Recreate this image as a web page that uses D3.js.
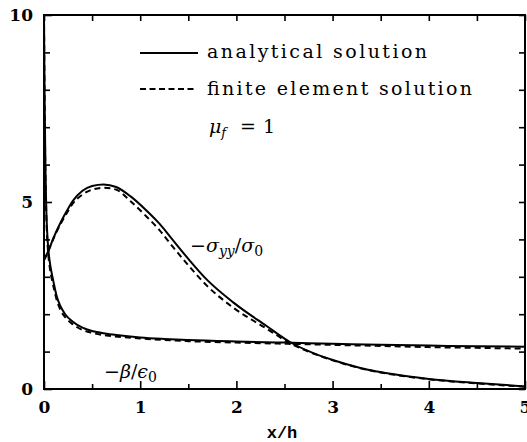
<!DOCTYPE html>
<html>
<head>
<meta charset="utf-8">
<script src="https://cdnjs.cloudflare.com/ajax/libs/d3/7.8.5/d3.min.js"></script>
<style>
  html, body { margin: 0; padding: 0; background: #fff; }
  svg { display: block; }
  .tick text { font-family: "DejaVu Serif", serif; font-weight: bold; font-size: 17px; fill: #000; }
  .tick line { stroke: #000; stroke-width: 1.6; }
</style>
</head>
<body>
<svg id="chart" width="527" height="442"></svg>
<script>
// Normalised position along the strip
const xs = [0, 0.05, 0.1, 0.17, 0.25, 0.3, 0.4, 0.5, 0.62, 0.75, 0.9, 1.07, 1.2, 1.34, 1.5, 1.69, 1.97, 2.31, 2.56, 2.8, 3.01, 3.28, 3.67, 4.0, 4.5, 5];
// -sigma_yy / sigma_0
const sigmaAnalytical = [3.45, 3.72, 4.05, 4.44, 4.82, 5.03, 5.3, 5.43, 5.47, 5.4, 5.15, 4.76, 4.42, 3.98, 3.48, 2.93, 2.31, 1.69, 1.25, 0.96, 0.77, 0.57, 0.38, 0.27, 0.16, 0.07];
const sigmaFE = [3.45, 3.72, 4.03, 4.4, 4.76, 4.96, 5.2, 5.33, 5.38, 5.33, 5.02, 4.6, 4.25, 3.8, 3.31, 2.77, 2.17, 1.62, 1.22, 0.95, 0.76, 0.56, 0.37, 0.26, 0.15, 0.06];

// -beta / epsilon_0
const xb = [0, 0.004, 0.008, 0.015, 0.025, 0.04, 0.06, 0.08, 0.1, 0.13, 0.17, 0.22, 0.3, 0.4, 0.5, 0.65, 0.8, 1.0, 1.25, 1.5, 2.0, 2.5, 3.0, 3.5, 4.0, 4.5, 5.0];
const betaAnalytical = [10, 8.6, 7.4, 5.9, 4.7, 3.9, 3.4, 3.1, 2.85, 2.5, 2.22, 2.0, 1.8, 1.64, 1.55, 1.48, 1.43, 1.38, 1.34, 1.31, 1.27, 1.24, 1.21, 1.18, 1.16, 1.14, 1.13];
const betaFE = [10, 8.4, 7.2, 5.7, 4.55, 3.75, 3.25, 2.95, 2.72, 2.4, 2.12, 1.92, 1.73, 1.58, 1.5, 1.43, 1.39, 1.35, 1.31, 1.28, 1.24, 1.21, 1.18, 1.15, 1.12, 1.1, 1.08];

// Axis ticks
const xMajor = [0, 1, 2, 3, 4, 5];
const xMinor = [0.5, 1.5, 2.5, 3.5, 4.5];
const yMajor = [0, 5, 10];
const yMinor = [1, 2, 3, 4, 6, 7, 8, 9];

const svg = d3.select("#chart");
const plotL = 44, plotR = 525, plotT = 15, plotB = 389;

const x = d3.scaleLinear().domain([0, 5]).range([plotL, plotR]);
const y = d3.scaleLinear().domain([0, 10]).range([plotB, plotT]);

// ticks: bottom & top
svg.append("g").attr("transform", `translate(0,${plotB})`)
  .call(d3.axisBottom(x).tickValues(xMajor).tickSize(-8).tickPadding(12).tickFormat(d3.format("d")))
  .call(g => g.select(".domain").remove());
svg.append("g").attr("transform", `translate(0,${plotB})`)
  .call(d3.axisBottom(x).tickValues(xMinor).tickSize(-5).tickFormat(""))
  .call(g => g.select(".domain").remove());
svg.append("g").attr("transform", `translate(0,${plotT})`)
  .call(d3.axisTop(x).tickValues(xMajor.concat(xMinor)).tickSize(-6).tickFormat(""))
  .call(g => g.select(".domain").remove());

// ticks: left & right
svg.append("g").attr("transform", `translate(${plotL},0)`)
  .call(d3.axisLeft(y).tickValues(yMajor).tickSize(-8).tickPadding(11).tickFormat(d3.format("d")))
  .call(g => g.select(".domain").remove());
svg.append("g").attr("transform", `translate(${plotL},0)`)
  .call(d3.axisLeft(y).tickValues(yMinor).tickSize(-6).tickFormat(""))
  .call(g => g.select(".domain").remove());
svg.append("g").attr("transform", `translate(${plotR},0)`)
  .call(d3.axisRight(y).tickValues(yMajor.concat(yMinor)).tickSize(-6).tickFormat(""))
  .call(g => g.select(".domain").remove());

// frame
svg.append("rect")
  .attr("x", plotL).attr("y", plotT)
  .attr("width", plotR - plotL).attr("height", plotB - plotT)
  .attr("fill", "none").attr("stroke", "#000").attr("stroke-width", 2);

const line = d3.line().curve(d3.curveMonotoneX);
function drawCurve(xv, yv, dashed) {
  svg.append("path")
    .attr("d", line(xv.map((d, i) => [x(d), y(yv[i])])))
    .attr("fill", "none")
    .attr("stroke", "#000")
    .attr("stroke-width", 2)
    .attr("stroke-dasharray", dashed ? "6,4" : null);
}
drawCurve(xs, sigmaAnalytical, false);
drawCurve(xs, sigmaFE, true);
drawCurve(xb, betaAnalytical, false);
drawCurve(xb, betaFE, true);

// legend
const legend = svg.append("g");
legend.append("line").attr("x1", 140).attr("x2", 198).attr("y1", 53).attr("y2", 53)
  .attr("stroke", "#000").attr("stroke-width", 1.8);
legend.append("line").attr("x1", 140).attr("x2", 196).attr("y1", 89).attr("y2", 89)
  .attr("stroke", "#000").attr("stroke-width", 1.8).attr("stroke-dasharray", "6,3.5");
const lf = "font-family:'DejaVu Serif',serif;font-size:19px;fill:#000";
legend.append("text").attr("x", 207).attr("y", 58).attr("style", lf)
  .attr("textLength", 220).attr("lengthAdjust", "spacing").text("analytical solution");
legend.append("text").attr("x", 207).attr("y", 95).attr("style", lf)
  .attr("textLength", 265).attr("lengthAdjust", "spacing").text("finite element solution");
const mu = legend.append("text").attr("x", 209).attr("y", 133).attr("style", lf);
mu.append("tspan").attr("font-style", "italic").text("μ");
mu.append("tspan").attr("font-style", "italic").attr("font-size", "13px").attr("dy", 4).text("f");
mu.append("tspan").attr("dy", -4).attr("x", 240).text("=");
mu.append("tspan").attr("x", 263).text("1");

// curve labels
const cf = "font-family:'DejaVu Serif',serif;font-size:19px;fill:#000";
const s = svg.append("text").attr("x", 190).attr("y", 252).attr("style", cf);
s.append("tspan").text("−");
s.append("tspan").attr("font-style", "italic").text("σ");
s.append("tspan").attr("font-style", "italic").attr("font-size", "14px").attr("dy", 4).text("yy");
s.append("tspan").attr("dy", -4).text("/");
s.append("tspan").attr("font-style", "italic").text("σ");
s.append("tspan").attr("font-size", "14px").attr("dy", 4).text("0");

const b = svg.append("text").attr("x", 104).attr("y", 378).attr("style", cf);
b.append("tspan").text("−");
b.append("tspan").attr("font-style", "italic").text("β");
b.append("tspan").text("/");
b.append("tspan").attr("font-style", "italic").text("ϵ");
b.append("tspan").attr("font-size", "14px").attr("dy", 4).text("0");

// axis title
svg.append("text").attr("x", 282).attr("y", 438).attr("text-anchor", "middle")
  .attr("style", "font-family:'Liberation Mono',monospace;font-weight:bold;font-size:17px;fill:#000")
  .text("x/h");
</script>
</body>
</html>
